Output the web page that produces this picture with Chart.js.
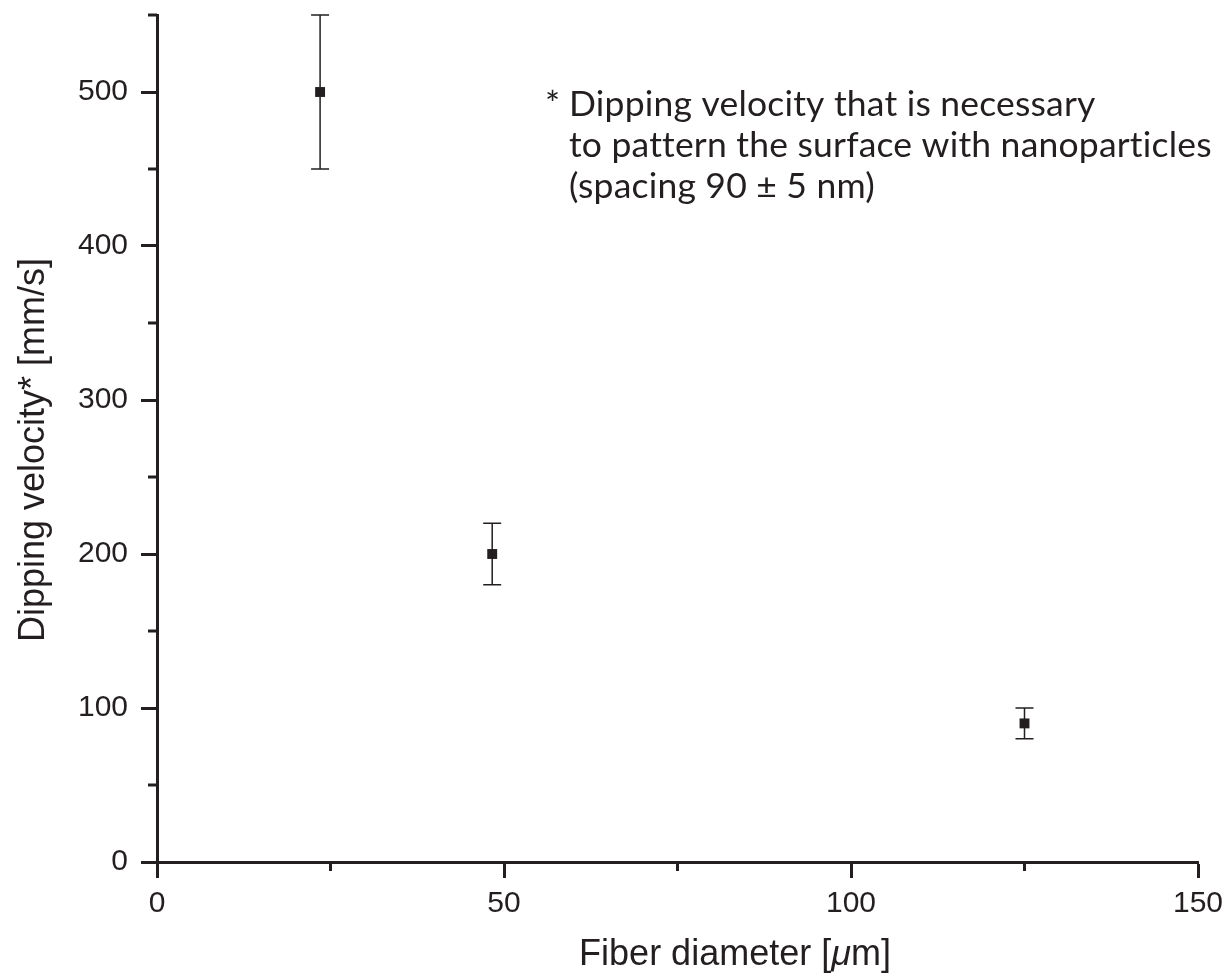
<!DOCTYPE html>
<html>
<head>
<meta charset="utf-8">
<script src="https://cdn.jsdelivr.net/npm/chart.js@4.4.1/dist/chart.umd.min.js"></script>
<style>
  html, body { margin: 0; padding: 0; background: #fff; }
  #wrap { width: 1227px; height: 975px; }
</style>
</head>
<body>
<div id="wrap"><canvas id="velChart" width="1227" height="975"></canvas></div>
<script>
// --------------------------- data ---------------------------
const fiberDiameter = [23.5, 48.3, 125];     // µm
const dipVelocity = [500, 200, 90];           // mm/s
const dipError = [50, 20, 10];                // +/- mm/s

const xTickLabels = [0, 50, 100, 150];
const yTickLabels = [0, 100, 200, 300, 400, 500];

// x title is split so the mu can be set in italic
const xTitleParts = ['Fiber diameter [', '\u03bc', 'm]'];
const yTitle = 'Dipping velocity* [mm/s]';
const noteLines = [
  'Dipping velocity that is necessary',
  'to pattern the surface with nanoparticles',
  '(spacing 90 \u00b1 5 nm)'
];

const ink = '#231f20';
const sansFam = "'Liberation Sans', Arial, sans-serif";
const tickFont = { family: sansFam, size: 30 };

// minor ticks, error bars, titles and the note
const extras = {
  id: 'extras',
  afterDatasetsDraw(chart) {
    const ctx = chart.ctx;
    const xs = chart.scales.x, ys = chart.scales.y;
    const area = chart.chartArea;
    ctx.save();

    // error bars
    ctx.strokeStyle = ink;
    ctx.lineWidth = 1.5;
    fiberDiameter.forEach(function(d, i) {
      let px = xs.getPixelForValue(d);
      let top = ys.getPixelForValue(dipVelocity[i] + dipError[i]);
      let bot = ys.getPixelForValue(dipVelocity[i] - dipError[i]);
      ctx.beginPath();
      ctx.moveTo(px, top); ctx.lineTo(px, bot);
      ctx.moveTo(px - 9, top); ctx.lineTo(px + 9, top);
      ctx.moveTo(px - 9, bot); ctx.lineTo(px + 9, bot);
      ctx.stroke();
    });

    // minor ticks
    ctx.lineWidth = 3;
    ctx.beginPath();
    xs.ticks.forEach(function(t) {
      if (xTickLabels.indexOf(t.value) < 0) {
        let px = xs.getPixelForValue(t.value);
        ctx.moveTo(px, area.bottom); ctx.lineTo(px, area.bottom + 9);
      }
    });
    ys.ticks.forEach(function(t) {
      if (yTickLabels.indexOf(t.value) < 0) {
        let py = ys.getPixelForValue(t.value);
        ctx.moveTo(area.left, py); ctx.lineTo(area.left - 9, py);
      }
    });
    ctx.stroke();

    // x title (upright / italic mu / upright)
    ctx.fillStyle = ink;
    ctx.textBaseline = 'alphabetic';
    ctx.textAlign = 'left';
    let fonts = ['36px ' + sansFam, 'italic 36px ' + sansFam, '36px ' + sansFam];
    let widths = xTitleParts.map(function(p, i) { ctx.font = fonts[i]; return ctx.measureText(p).width; });
    let tx = 735 - (widths[0] + widths[1] + widths[2]) / 2;
    xTitleParts.forEach(function(p, i) {
      ctx.font = fonts[i];
      ctx.fillText(p, tx, 965);
      tx += widths[i];
    });

    // y title
    ctx.save();
    ctx.textAlign = 'center';
    ctx.translate(44, 450);
    ctx.rotate(-Math.PI / 2);
    ctx.font = '36px ' + sansFam;
    ctx.fillText(yTitle, 0, 0);
    ctx.restore();

    // note text (tiny letter spacing keeps the "ti" ligature off)
    ctx.textAlign = 'left';
    if ('letterSpacing' in ctx) ctx.letterSpacing = '0.2px';
    ctx.font = "100px Lato, 'Open Sans', sans-serif";
    let w = ctx.measureText(noteLines[1]).width;
    let size = 100 * 638 / w;
    ctx.font = size.toFixed(1) + "px Lato, 'Open Sans', sans-serif";
    ctx.fillText('*', 545, 116);
    noteLines.forEach(function(line, i) {
      ctx.fillText(line, 569, 116 + i * 41);
    });

    ctx.restore();
  }
};

const velChart = new Chart(document.querySelector('#velChart'), {
  type: 'scatter',
  data: {
    datasets: [{
      label: 'Dipping velocity',
      data: fiberDiameter.map(function(d, i) { return { x: d, y: dipVelocity[i] }; }),
      pointStyle: 'rect',
      pointRadius: 7,
      pointBorderWidth: 0,
      backgroundColor: ink,
      borderColor: ink
    }]
  },
  options: {
    responsive: false,
    animation: false,
    devicePixelRatio: 1,
    layout: { padding: { top: 15, right: 29, left: 0, bottom: 0 } },
    plugins: {
      legend: { display: false },
      tooltip: { enabled: false }
    },
    scales: {
      x: {
        type: 'linear',
        min: 0,
        max: 150,
        afterFit: function(scale) {
          scale.height = 113;
          scale.paddingLeft = 0;
          scale.paddingRight = 0;
        },
        border: { display: true, color: ink, width: 3 },
        grid: {
          drawOnChartArea: false,
          drawTicks: true,
          tickLength: 16,
          tickWidth: 3,
          tickColor: function(c) { return xTickLabels.indexOf(c.tick.value) >= 0 ? ink : 'rgba(0,0,0,0)'; }
        },
        ticks: {
          stepSize: 25,
          padding: 8,
          color: ink,
          font: tickFont,
          maxRotation: 0,
          autoSkip: false,
          callback: function(v) { return xTickLabels.indexOf(v) >= 0 ? String(v) : ''; }
        }
      },
      y: {
        type: 'linear',
        min: 0,
        max: 550,
        afterFit: function(scale) {
          scale.width = 157;
          scale.paddingTop = 0;
          scale.paddingBottom = 0;
        },
        border: { display: true, color: ink, width: 3 },
        grid: {
          drawOnChartArea: false,
          drawTicks: true,
          tickLength: 16,
          tickWidth: 3,
          tickColor: function(c) { return yTickLabels.indexOf(c.tick.value) >= 0 ? ink : 'rgba(0,0,0,0)'; }
        },
        ticks: {
          stepSize: 50,
          padding: 13,
          color: ink,
          font: tickFont,
          autoSkip: false,
          callback: function(v) { return yTickLabels.indexOf(v) >= 0 ? String(v) : ''; }
        }
      }
    }
  },
  plugins: [extras]
});
</script>
</body>
</html>
